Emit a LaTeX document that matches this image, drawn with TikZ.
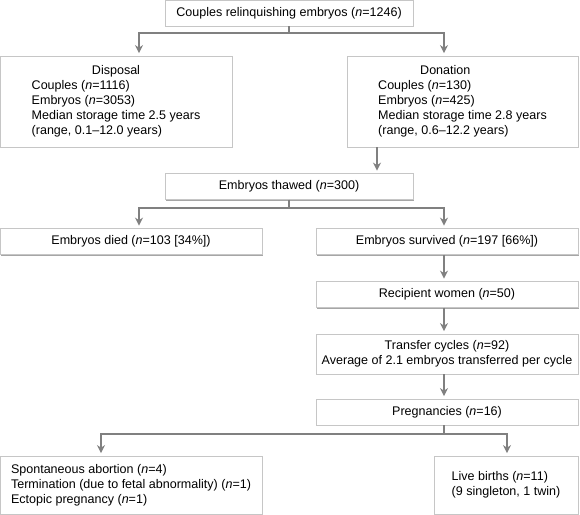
\documentclass[tikz,border=0pt]{standalone}
\usepackage{fontspec}
\setmainfont{Liberation Sans}
\usetikzlibrary{arrows.meta, shadows}
\tikzstyle{box} = [rectangle, draw=gray!45, fill=white, inner sep=0pt, text centered, font=\fontsize{9.4pt}{11.3pt}\selectfont, drop shadow={shadow xshift=1.1pt, shadow yshift=-1.1pt, fill=gray!70, opacity=1}]
\tikzstyle{single} = [box, minimum height=19.5pt]
\tikzstyle{link} = [line width=0.9pt, draw=black!50]
\tikzstyle{arrow} = [link, -{Stealth[length=6pt,width=6pt,inset=2pt]}, shorten >=2pt]

\begin{document}
\begin{tikzpicture}[x=0.75pt, y=-0.75pt]
					\useasboundingbox (0,0) rectangle (580,514);
					\node[single, minimum width=186pt] (couples) at (289,13) {Couples relinquishing embryos (\textit{n}=1246)};
					\node[box, minimum width=174pt, minimum height=68.25pt] (disposal) at (116,101.5) {\begin{tabular}{@{}l@{}}\multicolumn{1}{@{}c@{}}{Disposal}\\ Couples (\textit{n}=1116)\\ Embryos (\textit{n}=3053)\\ Median storage time 2.5 years\\ (range, 0.1--12.0 years)\end{tabular}};
					\node[box, minimum width=173.25pt, minimum height=68.25pt] (donation) at (462.5,101.5) {\begin{tabular}{@{}l@{}}\multicolumn{1}{@{}l@{}}{\hspace{31.5pt}Donation}\\ Couples (\textit{n}=130)\\ Embryos (\textit{n}=425)\\ Median storage time 2.8 years\\ (range, 0.6--12.2 years)\end{tabular}};
					\node[single, minimum width=186pt] (thawed) at (289,186.5) {Embryos thawed (\textit{n}=300)};
					\node[single, minimum width=196.5pt] (died) at (131,241.5) {Embryos died (\textit{n}=103 [34\%])};
					\node[single, minimum width=196.5pt] (survived) at (447,241.5) {Embryos survived (\textit{n}=197 [66\%])};
					\node[single, minimum width=196.5pt] (recipient) at (447,294.5) {Recipient women (\textit{n}=50)};
					\node[box, minimum width=196.5pt, minimum height=30pt, align=center] (transfer) at (447,354) {Transfer cycles (\textit{n}=92)\\ Average of 2.1 embryos transferred per cycle};
					\node[single, minimum width=196.5pt] (pregnancies) at (447,412) {Pregnancies (\textit{n}=16)};
					\node[box, minimum width=196.5pt, minimum height=43.5pt, align=left] (losses) at (131,485) {Spontaneous abortion (\textit{n}=4)\\ Termination (due to fetal abnormality) (\textit{n}=1)\\ Ectopic pregnancy (\textit{n}=1)};
					\node[box, minimum width=108pt, minimum height=43.5pt, align=left] (births) at (506,485) {Live births (\textit{n}=11)\\ (9 singleton, 1 twin)};
					% branch points
					\coordinate (b1l) at (139,33);
					\coordinate (b1r) at (444,33);
					\coordinate (don) at (377,0);
					\coordinate (b2l) at (139,208);
					\coordinate (b2r) at (444,208);
					\coordinate (col) at (444,0);
					\coordinate (b3l) at (101,434);
					\coordinate (b3r) at (507,434);
					\draw[arrow] (couples.south) |- (b1l) -- (b1l |- disposal.north);
					\draw[arrow] (couples.south) |- (b1r) -- (b1r |- donation.north);
					\draw[arrow] (don |- donation.south) -- (don |- thawed.north);
					\draw[arrow] (thawed.south) |- (b2l) -- (b2l |- died.north);
					\draw[arrow] (thawed.south) |- (b2r) -- (b2r |- survived.north);
					\draw[arrow] (col |- survived.south) -- (col |- recipient.north);
					\draw[arrow] (col |- recipient.south) -- (col |- transfer.north);
					\draw[arrow] (col |- transfer.south) -- (col |- pregnancies.north);
					\draw[arrow] (col |- pregnancies.south) |- (b3l) -- (b3l |- losses.north);
					\draw[arrow] (col |- pregnancies.south) |- (b3r) -- (b3r |- births.north);
				\end{tikzpicture}
\end{document}
